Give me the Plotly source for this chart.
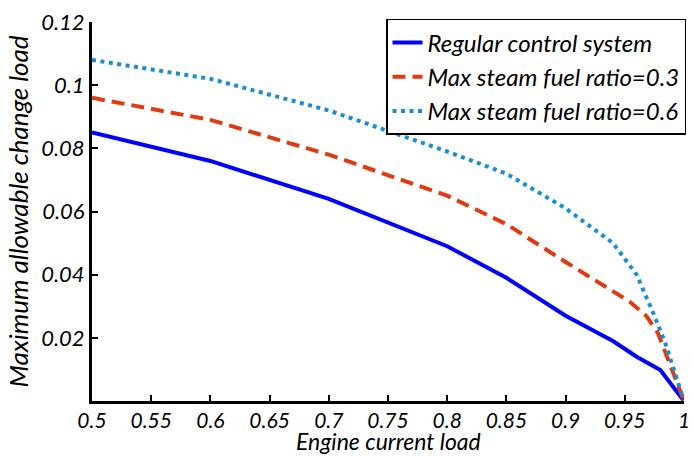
import plotly.graph_objects as go

x_regular = [0.5, 0.6, 0.7, 0.8, 0.85, 0.9, 0.94, 0.96, 0.98, 1.0]
y_regular = [0.085, 0.076, 0.064, 0.049, 0.039, 0.027, 0.019, 0.014, 0.0098, 0.0]

x_ratio03 = [0.5, 0.6, 0.7, 0.8, 0.85, 0.9, 0.954, 0.968, 0.978, 1.0]
y_ratio03 = [0.096, 0.089, 0.078, 0.065, 0.056, 0.044, 0.0315, 0.027, 0.0215, 0.0]

x_ratio06 = [0.5, 0.6, 0.7, 0.8, 0.85, 0.9, 0.94, 0.96, 0.975, 0.984, 1.0]
y_ratio06 = [0.108, 0.102, 0.092, 0.079, 0.072, 0.061, 0.050, 0.040, 0.027, 0.0185, 0.0]

names = ["Regular control system", "Max steam fuel ratio=0.3", "Max steam fuel ratio=0.6"]
x_ticks = [0.5, 0.55, 0.6, 0.65, 0.7, 0.75, 0.8, 0.85, 0.9, 0.95, 1.0]
x_labels = ["0.5", "0.55", "0.6", "0.65", "0.7", "0.75", "0.8", "0.85", "0.9", "0.95", "1"]
y_ticks = [0.02, 0.04, 0.06, 0.08, 0.1, 0.12]
y_labels = ["0.02", "0.04", "0.06", "0.08", "0.1", "0.12"]
x_title = "Engine current load"
y_title = "Maximum allowable change load"

FONT = "Lato"
fig = go.Figure()
fig.add_trace(go.Scatter(x=x_regular, y=y_regular, mode="lines", name=names[0], legendgroup="a",
                         line=dict(color="#0000FF", width=4)))
fig.add_trace(go.Scatter(x=x_ratio03, y=y_ratio03, mode="lines", name=names[1], legendgroup="b",
                         line=dict(color="#E03A10", width=4, dash="13px,7px")))
fig.add_trace(go.Scatter(x=x_ratio06, y=y_ratio06, mode="lines", name=names[2], legendgroup="c",
                         line=dict(color="#1A8FD0", width=4, dash="4px,4.5px")))

fig.update_layout(
    width=694, height=456,
    margin=dict(l=92, r=8, t=22, b=55),
    paper_bgcolor="white", plot_bgcolor="white",
    font=dict(family=FONT, color="black", style="italic", size=22),
    legend=dict(x=1.0034, y=1.008, xanchor="right", yanchor="top",
                bgcolor="white", bordercolor="black", borderwidth=1.5,
                font=dict(family=FONT, size=24, style="italic", color="black"),
                traceorder="grouped", tracegroupgap=0),
    showlegend=True,
)
fig.add_annotation(text=x_title, xref="paper", yref="paper", x=0.5, y=-0.1055,
                   xanchor="center", yanchor="middle", showarrow=False,
                   font=dict(family=FONT, size=23, style="italic", color="black"))
fig.update_xaxes(range=[0.5, 1.0], tickvals=x_ticks, ticktext=x_labels, tickangle=0,
                 ticklabelstandoff=-1)
fig.update_yaxes(range=[0, 0.12], tickvals=y_ticks, ticktext=y_labels,
                 title_text=y_title, title_standoff=6,
                 title_font_family=FONT, title_font_size=26, title_font_color="black",
                 title_font_style="italic")
fig.update_xaxes(automargin=False, tickfont_size=21)
fig.update_yaxes(automargin=False, tickfont_size=22)
for upd in (fig.update_xaxes, fig.update_yaxes):
    upd(showline=True, linecolor="black", linewidth=3, mirror=False,
        ticks="inside", ticklen=6, tickwidth=2, tickcolor="black",
        showgrid=False, zeroline=False,
        tickfont_family=FONT, tickfont_color="black", tickfont_style="italic")

fig.write_html("out.html")
